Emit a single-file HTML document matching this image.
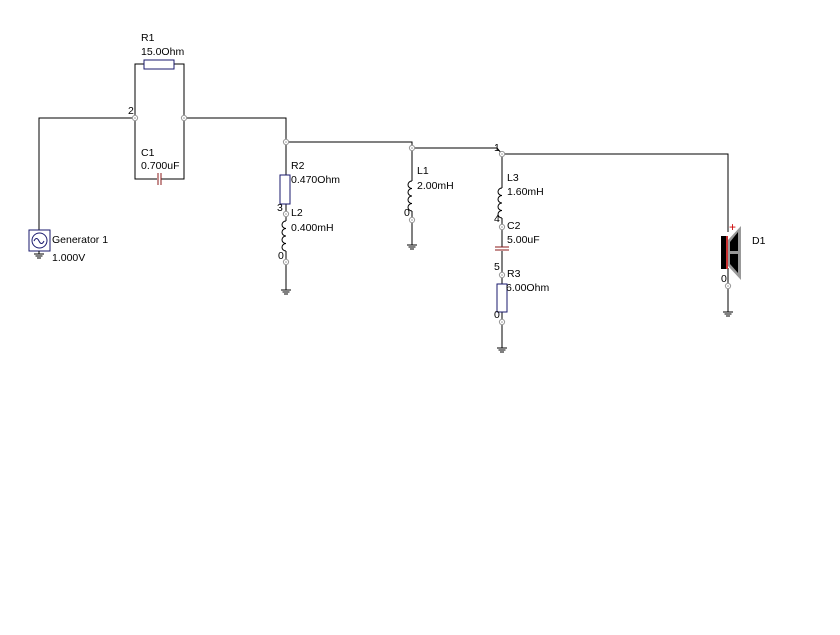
<!DOCTYPE html>
<html><head><style>
body{margin:0;background:#fff;width:840px;height:630px;overflow:hidden}
svg text{font-family:"Liberation Sans",sans-serif;font-size:10.5px;fill:#000}
</style></head><body>
<svg width="840" height="630" xmlns="http://www.w3.org/2000/svg">
<defs>
<g id="nd"><circle r="2.6" fill="#fff" stroke="#999" stroke-width="1"/><circle r="0.8" fill="#999"/></g>
<g id="gnd" stroke="#000" stroke-width="1"><line x1="-5" y1="0" x2="5" y2="0"/><line x1="-3.5" y1="2" x2="3.5" y2="2"/><line x1="-2" y1="4" x2="2" y2="4"/></g>
<path id="coil" d="M0,0 a4,3.75 0 0 0 0,7.5 a4,3.75 0 0 0 0,7.5 a4,3.75 0 0 0 0,7.5 a4,3.75 0 0 0 0,7.5" fill="none" stroke="#000" stroke-width="1"/>
</defs>
<g stroke="#000" stroke-width="1" fill="none">
<polyline points="39,230 39,118 135,118"/>
<polyline points="135,118 135,64 144,64"/><polyline points="174,64 184,64 184,118"/>
<polyline points="135,118 135,179 157,179"/><polyline points="161,179 184,179 184,118"/>
<polyline points="184,118 286,118 286,142 412,142 412,148 497,148 502,154 728,154 728,232"/>
<line x1="286" y1="142" x2="286" y2="175"/><line x1="286" y1="204" x2="286" y2="221"/>
<line x1="286" y1="251" x2="286" y2="290"/>
<line x1="412" y1="148" x2="412" y2="181"/><line x1="412" y1="211" x2="412" y2="245"/>
<line x1="502" y1="154" x2="502" y2="188"/><line x1="502" y1="218" x2="502" y2="247"/>
<line x1="502" y1="251" x2="502" y2="284"/><line x1="502" y1="312" x2="502" y2="348"/>
<line x1="728" y1="268" x2="728" y2="312"/>
</g>
<rect x="144" y="60" width="30" height="9" fill="#fff" stroke="#1a1a6e" stroke-width="1"/>
<line x1="158" y1="173" x2="158" y2="185" stroke="#8b1a1a" stroke-width="1"/>
<line x1="161" y1="173" x2="161" y2="185" stroke="#8b1a1a" stroke-width="1"/>
<rect x="280" y="175" width="10" height="29" fill="#fff" stroke="#1a1a6e" stroke-width="1"/>
<rect x="497" y="284" width="10" height="28" fill="#fff" stroke="#1a1a6e" stroke-width="1"/>
<line x1="495" y1="247" x2="509" y2="247" stroke="#8b1a1a"/>
<line x1="495" y1="250" x2="509" y2="250" stroke="#8b1a1a"/>
<use href="#coil" x="286" y="221"/>
<use href="#coil" x="412" y="181"/>
<use href="#coil" x="502" y="188"/>
<rect x="29" y="230" width="21" height="21" fill="#fff" stroke="#1a1a6e"/>
<circle cx="39.5" cy="240.5" r="7.5" fill="none" stroke="#1a1a6e"/>
<path d="M34,241 q2.5,-5 5,0 q2.5,5 5,0" fill="none" stroke="#1a1a6e"/>
<line x1="39" y1="251" x2="39" y2="254" stroke="#000"/>
<use href="#gnd" x="39" y="254"/>
<use href="#gnd" x="286" y="290"/>
<use href="#gnd" x="412" y="245"/>
<use href="#gnd" x="502" y="348"/>
<use href="#gnd" x="728" y="312"/>
<rect x="721" y="236" width="5" height="33" fill="#000"/>
<rect x="726" y="236" width="2" height="33" fill="#c33"/>
<polygon points="728,240 741,226 741,280 728,266" fill="#999"/>
<polygon points="730,242 738,232 738,251 730,251" fill="#000"/>
<polygon points="730,254 738,254 738,273 730,264" fill="#000"/>
<text x="729" y="231" style="fill:#c00;font-size:12px">+</text>
<use href="#nd" x="135" y="118"/><use href="#nd" x="184" y="118"/>
<use href="#nd" x="286" y="142"/><use href="#nd" x="286" y="214"/><use href="#nd" x="286" y="262"/>
<use href="#nd" x="412" y="148"/><use href="#nd" x="412" y="220"/>
<use href="#nd" x="502" y="154"/><use href="#nd" x="502" y="227"/><use href="#nd" x="502" y="275"/><use href="#nd" x="502" y="322"/>
<use href="#nd" x="728" y="286"/>
<text x="141" y="41">R1</text><text x="141" y="55">15.0Ohm</text>
<text x="128" y="114">2</text>
<text x="141" y="156">C1</text><text x="141" y="169">0.700uF</text>
<text x="52" y="243">Generator 1</text><text x="52" y="261">1.000V</text>
<text x="291" y="169">R2</text><text x="291" y="183">0.470Ohm</text>
<text x="277" y="211">3</text><text x="291" y="216">L2</text><text x="291" y="231">0.400mH</text>
<text x="278" y="259">0</text>
<text x="417" y="174">L1</text><text x="417" y="189">2.00mH</text>
<text x="404" y="216">0</text>
<text x="494" y="151">1</text>
<text x="507" y="181">L3</text><text x="507" y="195">1.60mH</text>
<text x="494" y="222">4</text><text x="507" y="229">C2</text><text x="507" y="243">5.00uF</text>
<text x="494" y="270">5</text><text x="507" y="277">R3</text><text x="506" y="291">6.00Ohm</text>
<text x="494" y="318">0</text>
<text x="721" y="282">0</text>
<text x="752" y="244">D1</text>
</svg>
</body></html>
